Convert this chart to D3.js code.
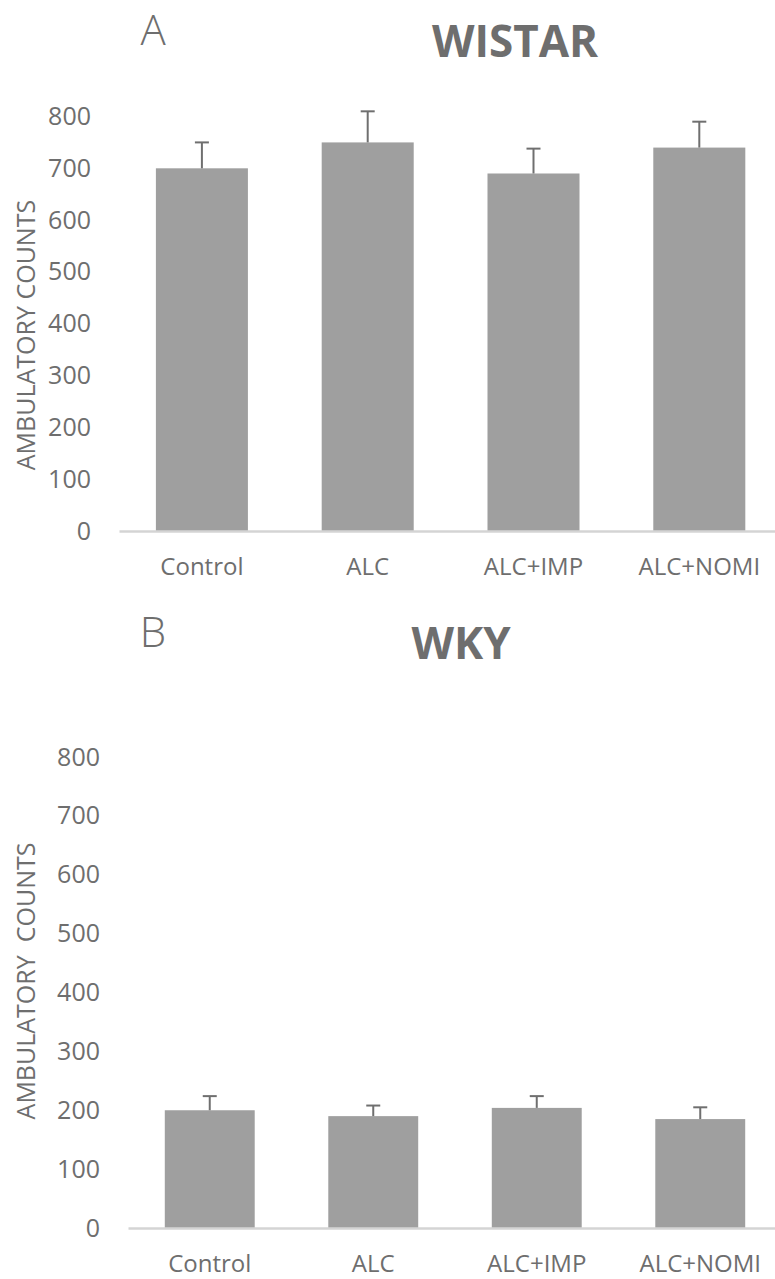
<!DOCTYPE html>
<html>
<head>
<meta charset="utf-8">
<script src="https://cdn.jsdelivr.net/npm/d3@7"></script>
<style>
  body { margin: 0; background: #fff; }
  text { font-family: "Open Sans", sans-serif; fill: #6e6e6e; }
</style>
</head>
<body>
<div id="chart"></div>
<script>
// data
var categories = ["Control", "ALC", "ALC+IMP", "ALC+NOMI"];
var wistarMeans = [700, 750, 690, 740];
var wistarErr = [50, 60, 48, 50];
var wkyMeans = [200, 190, 204, 185];
var wkyErr = [24, 18, 20, 20];
var yTicks = [0, 100, 200, 300, 400, 500, 600, 700, 800];

var w = 775;
var h = 1279;

var svg = d3.select("#chart")
            .append("svg")
            .attr("width", w)
            .attr("height", h);

// one panel: bars + error bars + axes
function panel(opts) {
    var x = d3.scaleBand()
              .domain(categories)
              .range([opts.left, opts.left + 4 * opts.step])
              .paddingInner(opts.pad)
              .paddingOuter(opts.pad / 2);

    var y = d3.scaleLinear()
              .domain([0, 800])
              .range([opts.base, opts.top]);

    var g = svg.append("g");

    // bars
    g.selectAll("rect.bar")
     .data(opts.means)
     .enter()
     .append("rect")
     .attr("class", "bar")
     .attr("x", function(d, i) { return x(categories[i]); })
     .attr("y", function(d) { return y(d); })
     .attr("width", x.bandwidth())
     .attr("height", function(d) { return y(0) - y(d); })
     .attr("fill", "#9f9f9f");

    // error bars (upper only)
    var eb = g.selectAll("g.err")
              .data(opts.means)
              .enter()
              .append("g")
              .attr("class", "err")
              .attr("stroke", "#6f6f6f")
              .attr("stroke-width", 2);

    eb.append("line")
      .attr("x1", function(d, i) { return x(categories[i]) + x.bandwidth() / 2; })
      .attr("x2", function(d, i) { return x(categories[i]) + x.bandwidth() / 2; })
      .attr("y1", function(d) { return y(d); })
      .attr("y2", function(d, i) { return y(d + opts.err[i]); });

    eb.append("line")
      .attr("x1", function(d, i) { return x(categories[i]) + x.bandwidth() / 2 - 7; })
      .attr("x2", function(d, i) { return x(categories[i]) + x.bandwidth() / 2 + 7; })
      .attr("y1", function(d, i) { return y(d + opts.err[i]); })
      .attr("y2", function(d, i) { return y(d + opts.err[i]); });

    // y axis (labels only)
    var ya = g.append("g")
              .attr("transform", "translate(" + opts.left + ",0)")
              .call(d3.axisLeft(y).tickValues(yTicks).tickSize(0).tickPadding(28));
    ya.select(".domain").remove();
    ya.selectAll("text")
      .style("font-size", "25px")
      .attr("fill", "#6e6e6e");

    // x axis
    var xa = g.append("g")
              .attr("transform", "translate(0," + opts.base + ")")
              .call(d3.axisBottom(x).tickSize(0).tickPadding(27));
    xa.select(".domain")
      .attr("stroke", "#d4d4d4")
      .attr("stroke-width", 2.5);
    xa.selectAll("text")
      .style("font-size", "24px")
      .attr("fill", "#6e6e6e");

    // y axis title
    g.append("text")
     .attr("transform", "translate(35," + opts.titleY + ") rotate(-90)")
     .attr("text-anchor", "middle")
     .style("font-size", "25px")
     .style("white-space", "pre")
     .text(opts.yTitle);

    // panel letter
    g.append("text")
     .attr("x", 153)
     .attr("y", opts.letterY)
     .attr("text-anchor", "middle")
     .style("font-size", "42px")
     .style("font-weight", 300)
     .text(opts.letter);

    // panel title
    g.append("text")
     .attr("x", opts.nameX)
     .attr("y", opts.nameY)
     .attr("text-anchor", "middle")
     .style("font-size", "44px")
     .style("font-weight", "bold")
     .attr("fill", "#666")
     .text(opts.name);
}

panel({
    means: wistarMeans, err: wistarErr,
    left: 119, step: 165.8, pad: 0.445,
    base: 531, top: 116.5,
    yTitle: "AMBULATORY COUNTS", titleY: 335,
    letter: "A", letterY: 45,
    name: "WISTAR", nameX: 515, nameY: 57
});

panel({
    means: wkyMeans, err: wkyErr,
    left: 128, step: 163.5, pad: 0.45,
    base: 1228, top: 757,
    yTitle: "AMBULATORY  COUNTS", titleY: 981,
    letter: "B", letterY: 647,
    name: "WKY", nameX: 461, nameY: 659
});
</script>
</body>
</html>
